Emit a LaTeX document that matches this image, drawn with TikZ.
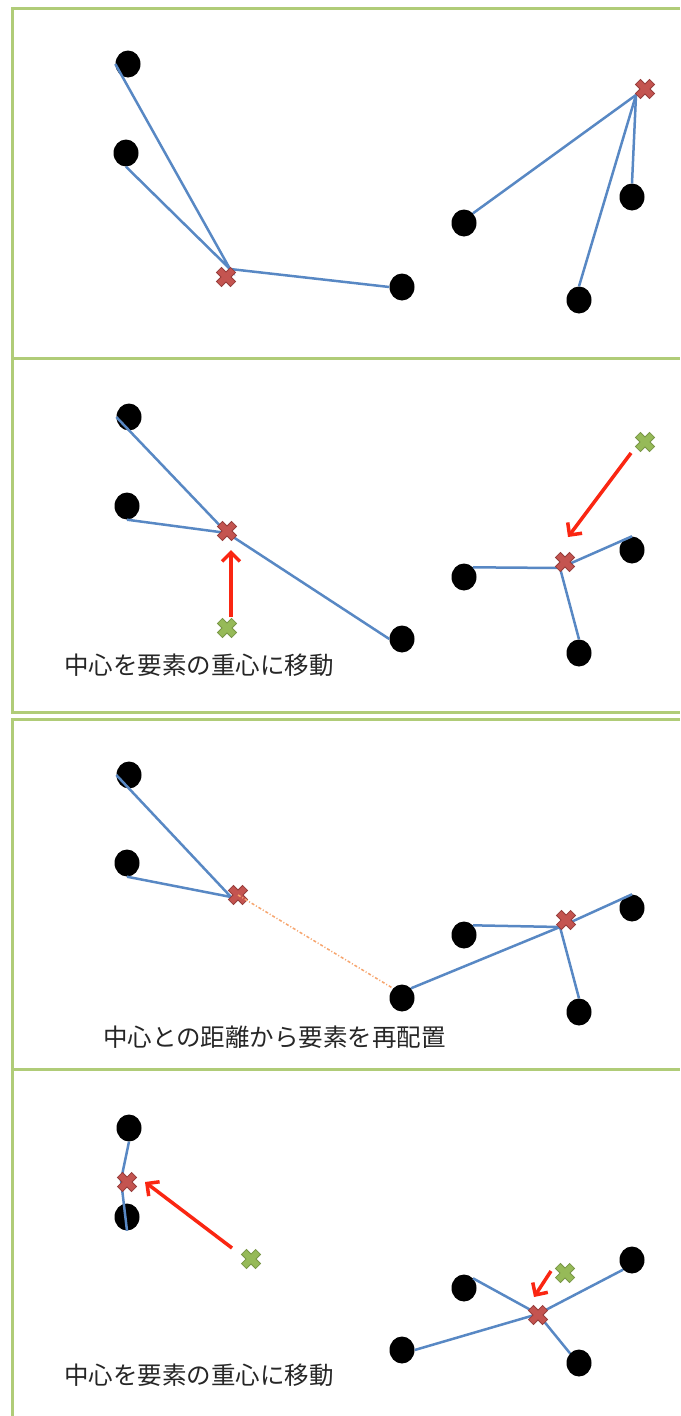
\documentclass[tikz,border=0pt]{standalone}
\usepackage{fontspec}
\newfontfamily\jp{Noto Sans CJK JP}
\usetikzlibrary{shapes.geometric,arrows.meta}
\definecolor{framegreen}{RGB}{176,204,120}
\definecolor{linkblue}{RGB}{88,136,196}
\definecolor{xred}{RGB}{196,84,80}
\definecolor{xredd}{RGB}{150,60,58}
\definecolor{xgreen}{RGB}{150,186,88}
\definecolor{xgreend}{RGB}{120,150,70}
\definecolor{arrred}{RGB}{250,38,18}
\definecolor{dashorange}{RGB}{247,165,110}
\tikzset{
  frameline/.style={draw=framegreen,line width=3pt},
  elem/.style={ellipse,fill=black,minimum width=25pt,minimum height=27pt,inner sep=0pt},
  xnode/.style={inner sep=0pt,minimum size=20pt},
  link/.style={draw=linkblue,line width=2.5pt},
  move/.style={draw=arrred,line width=3.5pt,-{Straight Barb[length=9pt,width=18pt]}},
  gap/.style={draw=dashorange,line width=1.5pt,dash pattern=on 3pt off 2pt on 1pt off 2pt},
  caption/.style={anchor=west,inner sep=0pt,font=\jp\fontsize{24.5}{28}\selectfont,text=black!85}
}
\newcommand{\xshape}[3]{%
  \node[xnode] (#1) at (#2) {};
  \filldraw[fill=#3,draw=#3d,line width=0.8pt,shift={(#1.center)},rotate=45]
    (3.5,10)--(3.5,3.5)--(10,3.5)--(10,-3.5)--(3.5,-3.5)--(3.5,-10)--(-3.5,-10)--(-3.5,-3.5)--(-10,-3.5)--(-10,3.5)--(-3.5,3.5)--(-3.5,10)--cycle;}
\begin{document}
\begin{tikzpicture}[x=1pt,y=-1pt]
\useasboundingbox (0,0) rectangle (680,1416);
\fill[white] (0,0) rectangle (680,1416);
% frames
\draw[frameline] (680,8) -- (12,8) -- (12,712) -- (680,712);
\draw[frameline] (12,358) -- (680,358);
\draw[frameline] (680,719) -- (12,719) -- (12,1416);
\draw[frameline] (12,1069) -- (680,1069);

% ---------- panel 1 ----------
\node[elem] (A1) at (128,64) {};
\node[elem] (A2) at (126,153) {};
\node[elem] (A3) at (402,287) {};
\coordinate (h1) at (230,269);
\draw[link] (A1.west) -- (h1) -- (A2.south);
\draw[link] (h1) -- (A3.west);
\xshape{c1}{226,277}{xred}

\node[elem] (B1) at (464,223) {};
\node[elem] (B2) at (632,197) {};
\node[elem] (B3) at (579,300) {};
\coordinate (h2) at (636,95);
\draw[link] (B1.north east) -- (h2) -- (B2.north);
\draw[link] (h2) -- (B3.north);
\xshape{c2}{645,89}{xred}

% ---------- panel 2 ----------
\node[elem] (C1) at (129,417) {};
\node[elem] (C2) at (127,506) {};
\node[elem] (C3) at (402,639) {};
\coordinate (h3) at (227,533);
\draw[link] (C1.west) -- (h3) -- (C2.south);
\draw[link] (h3) -- (C3.west);
\xshape{c3}{227,531}{xred}
\xshape{g3}{227,628}{xgreen}
\coordinate (a3s) at (231,617);
\coordinate (a3e) at (231,550);
\draw[move] (a3s) -- (a3e);

\node[elem] (D1) at (464,577) {};
\node[elem] (D2) at (632,550) {};
\node[elem] (D3) at (579,653) {};
\coordinate (h4) at (560,568);
\draw[link] (D1.north east) -- (h4) -- (D2.north);
\draw[link] (h4) -- (D3.north);
\xshape{c4}{565,562}{xred}
\xshape{g4}{645,442}{xgreen}
\coordinate (a4s) at (631,453);
\coordinate (a4e) at (568,537);
\draw[move] (a4s) -- (a4e);

\node[caption] (t1) at (64,665) {中心を要素の重心に移動};

% ---------- panel 3 ----------
\node[elem] (E1) at (129,775) {};
\node[elem] (E2) at (127,863) {};
\node[elem] (E3) at (402,998) {};
\coordinate (h5) at (231,897);
\draw[link] (E1.west) -- (h5) -- (E2.south);
\xshape{c5}{238,895}{xred}
\draw[gap] (c5.center) -- (E3.north west);

\node[elem] (F1) at (464,935) {};
\node[elem] (F2) at (632,908) {};
\node[elem] (F3) at (579,1012) {};
\coordinate (h6) at (560,927);
\draw[link] (F1.north east) -- (h6) -- (F2.north);
\draw[link] (h6) -- (F3.north);
\draw[link] (E3.north east) -- (h6);
\xshape{c6}{566,920}{xred}

\node[caption] (t2) at (103,1037) {中心との距離から要素を再配置};

% ---------- panel 4 ----------
\node[elem] (G1) at (129,1128) {};
\node[elem] (G2) at (127,1217) {};
\coordinate (h7) at (121,1180);
\draw[link] (G1.south) -- (h7) -- (G2.south);
\xshape{c7}{127,1182}{xred}
\xshape{g7}{251,1259}{xgreen}
\coordinate (a7s) at (232,1248);
\coordinate (a7e) at (145,1182);
\draw[move] (a7s) -- (a7e);

\node[elem] (H1) at (464,1288) {};
\node[elem] (H2) at (632,1260) {};
\node[elem] (H3) at (402,1350) {};
\node[elem] (H4) at (579,1363) {};
\coordinate (h8) at (538,1314);
\draw[link] (H1.north east) -- (h8) -- (H2.south west);
\draw[link] (H3.east) -- (h8) -- (H4.north west);
\xshape{c8}{538,1315}{xred}
\xshape{g8}{565,1273}{xgreen}
\coordinate (a8s) at (551,1271);
\coordinate (a8e) at (534,1297);
\draw[move] (a8s) -- (a8e);

\node[caption] (t3) at (64,1375) {中心を要素の重心に移動};
\end{tikzpicture}
\end{document}
